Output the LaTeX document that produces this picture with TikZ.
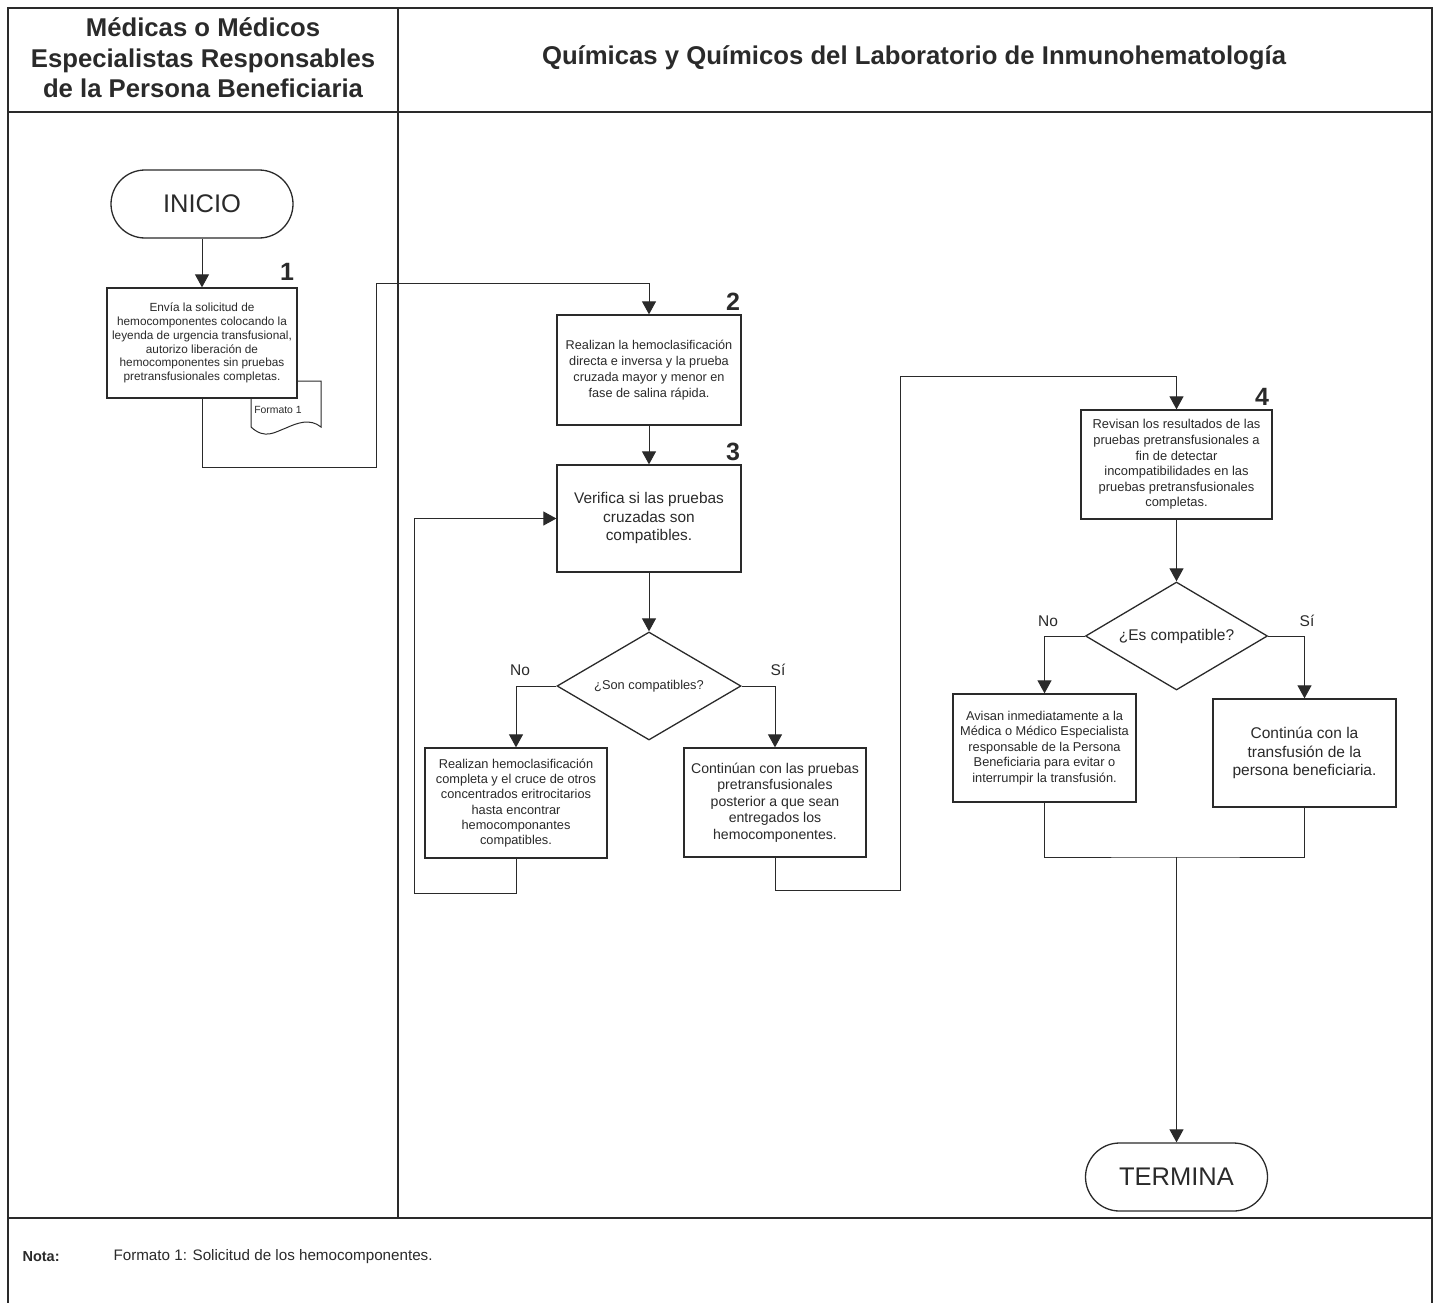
\documentclass[tikz,border=0pt]{standalone}
\usepackage{fontspec}
\setmainfont{Liberation Sans}
\usetikzlibrary{arrows.meta,shapes.geometric}
\definecolor{ink}{HTML}{2A2A2A}
\newcommand{\fsz}[2]{\fontsize{#1}{#2}\selectfont}

\begin{document}
\begin{tikzpicture}[x=1pt,y=-1pt,
  box/.style={draw=ink, line width=1.3pt, fill=white, align=center, inner sep=2pt, text=ink},
  term/.style={draw=ink, line width=1.3pt, rounded corners=34pt, minimum width=182pt,
               minimum height=68pt, text=ink, font=\fsz{25.5}{30}},
  dec/.style={draw=ink, line width=1.3pt, diamond, aspect=1.7, minimum width=184pt,
              minimum height=108pt, inner sep=0pt, text=ink, align=center},
  flow/.style={draw=ink, line width=1pt},
  arr/.style={flow, -{Triangle[width=14pt,length=13pt]}},
  num/.style={font=\bfseries\fsz{25}{25}, text=ink},
  ans/.style={font=\fsz{15.5}{16}, text=ink},
  frame/.style={draw=ink, line width=2pt},
]
\useasboundingbox (0,0) rectangle (1437,1303);

% ---- swimlane frame ----
\draw[frame] (8,1303) -- (8,8) -- (1432,8) -- (1432,1303);
\draw[frame] (8,112) -- (1432,112);
\draw[frame] (8,1218) -- (1432,1218);
\draw[frame] (398,8) -- (398,1218);

\node[font=\bfseries\fsz{25.7}{30.5}, align=center, text=ink] (hdrA) at (203,58)
  {Médicas o Médicos\\Especialistas Responsables\\de la Persona Beneficiaria};
\node[font=\bfseries\fsz{25.7}{30}, text=ink] (hdrB) at (914,58)
  {Químicas y Químicos del Laboratorio de Inmunohematología};

% ---- lane 1 ----
\node[term] (start) at (202,204) {INICIO};

% document symbol behind step 1
\draw[flow, fill=white] (251,381) -- (321,381) -- (321,427)
  .. controls (310,418) and (297,423) .. (286,428)
  .. controls (275,432) and (265,440) .. (251,427) -- cycle;
\node[font=\fsz{10.4}{12}, text=ink] (fmt) at (278,410) {Formato 1};

\node[box, minimum width=190pt, minimum height=110pt, font=\fsz{11.8}{13.8}] (b1) at (202,343)
  {Envía la solicitud de\\hemocomponentes colocando la\\leyenda de urgencia transfusional,\\autorizo liberación de\\hemocomponentes sin pruebas\\pretransfusionales completas.};
\node[num] (n1) at (287,272) {1};

% ---- lane 2 ----
\node[box, minimum width=184pt, minimum height=110pt, font=\fsz{12.7}{16}] (b2) at (649,370)
  {Realizan la hemoclasificación\\directa e inversa y la prueba\\cruzada mayor y menor en\\fase de salina rápida.};
\node[num] (n2) at (733,302) {2};

\node[box, minimum width=184pt, minimum height=107pt, font=\fsz{15.4}{18.5}] (b3) at (649,518.5)
  {Verifica si las pruebas\\cruzadas son\\compatibles.};
\node[num] (n3) at (733,452) {3};

\node[dec, font=\fsz{12.8}{15}] (d1) at (649,686) {¿Son compatibles?};
\node[ans] (no1) at (520,670) {No};
\node[ans] (si1) at (778,670) {Sí};

\node[box, minimum width=182pt, minimum height=110pt, font=\fsz{12.8}{15.3}] (bno) at (516,803)
  {Realizan hemoclasificación\\completa y el cruce de otros\\concentrados eritrocitarios\\hasta encontrar\\hemocomponantes\\compatibles.};
\node[box, minimum width=182pt, minimum height=109pt, font=\fsz{14.1}{16.6}] (bsi) at (775,802.5)
  {Continúan con las pruebas\\pretransfusionales\\posterior a que sean\\entregados los\\hemocomponentes.};

\node[box, minimum width=191pt, minimum height=109pt, font=\fsz{12.9}{15.6}] (b4) at (1176.5,464.5)
  {Revisan los resultados de las\\pruebas pretransfusionales a\\fin de detectar\\incompatibilidades en las\\pruebas pretransfusionales\\completas.};
\node[num] (n4) at (1262,397) {4};

\node[dec, minimum width=182pt, font=\fsz{15.5}{18}] (d2) at (1176.5,636) {¿Es compatible?};
\node[ans] (no2) at (1048,621) {No};
\node[ans] (si2) at (1307,621) {Sí};

\node[box, minimum width=183pt, minimum height=108pt, font=\fsz{12.8}{15.5}] (bav) at (1044.5,748)
  {Avisan inmediatamente a la\\Médica o Médico Especialista\\responsable de la Persona\\Beneficiaria para evitar o\\interrumpir la transfusión.};
\node[box, minimum width=183pt, minimum height=108pt, font=\fsz{15.5}{18.5}] (bco) at (1304.5,753)
  {Continúa con la\\transfusión de la\\persona beneficiaria.};

\node[term] (end) at (1176.5,1177) {TERMINA};

% ---- bend points ----
\coordinate (c1) at (376,467);
\coordinate (c2) at (376,283);
\coordinate (c3) at (414,893);
\coordinate (c4) at (900,890);
\coordinate (c5) at (900,376);
\coordinate (c6) at (1176.5,857);

% ---- connectors ----
\draw[arr] (start) -- (b1);
\draw[arr] (b1.south) |- (c1) -- (c2) -| (b2.north);
\draw[arr] (b2) -- (b3);
\draw[arr] (b3) -- (d1);
\draw[arr] (d1.west) -| (bno.north);
\draw[arr] (d1.east) -| (bsi.north);
\draw[arr] (bno.south) |- (c3) |- (b3.west);
\draw[arr] (bsi.south) |- (c4) -- (c5) -| (b4.north);
\draw[arr] (b4) -- (d2);
\draw[arr] (d2.west) -| (bav.north);
\draw[arr] (d2.east) -| (bco.north);
\draw[flow] (bav.south) |- (c6) -| (bco.south);
\draw[arr] (c6) -- (end);

% ---- note ----
\node[font=\bfseries\fsz{14.5}{16}, anchor=west, text=ink] (nota) at (19,1257) {Nota:};
\node[font=\fsz{15.2}{17}, anchor=west, text=ink] (notatxt) at (110,1257)
  {Formato 1: Solicitud de los hemocomponentes.};
\end{tikzpicture}
\end{document}
